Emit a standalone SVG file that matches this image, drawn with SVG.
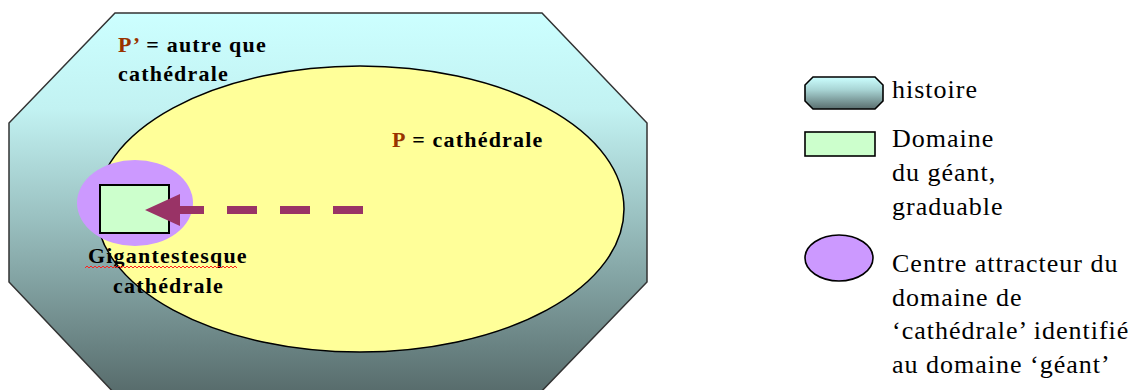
<svg xmlns="http://www.w3.org/2000/svg" width="1147" height="390" viewBox="0 0 1147 390">
<style>
.b{font-weight:bold;font-size:22px;letter-spacing:1.2px;fill:#000}
.r{font-size:26px;letter-spacing:1px;fill:#000}
.red{fill:#993300}
.ln{stroke:#000;stroke-width:1.6}
</style>
<defs>
<linearGradient id="gBig" x1="0" y1="13" x2="0" y2="396" gradientUnits="userSpaceOnUse">
<stop offset="0" stop-color="#ccffff"/>
<stop offset="0.25" stop-color="#c2f2f2"/>
<stop offset="0.55" stop-color="#98bebe"/>
<stop offset="1" stop-color="#566a6a"/>
</linearGradient>
<linearGradient id="gSmall" x1="0" y1="0" x2="0" y2="1">
<stop offset="0" stop-color="#ccffff"/>
<stop offset="0.4" stop-color="#a8d4d4"/>
<stop offset="1" stop-color="#5a6e6e"/>
</linearGradient>
<marker id="ah" markerUnits="userSpaceOnUse" markerWidth="36" markerHeight="32" viewBox="0 0 36 32" refX="0" refY="16" orient="auto">
<path d="M0,0 L35,16 L0,32 z" fill="#993366"/>
</marker>
</defs>
<g id="histoire">
<polygon points="115,13 542,13 647,123 647,282 537,396 117,396 9,282 9,123" fill="url(#gBig)" stroke="#333" stroke-width="1.5"/>
</g>
<g id="cathedrale">
<ellipse cx="360" cy="209" rx="264" ry="143" fill="#ffff99" stroke="#000" stroke-width="1.5"/>
</g>
<g id="centre">
<ellipse cx="135" cy="203" rx="58" ry="43" fill="#cc99ff"/>
</g>
<g id="domaine">
<rect x="100" y="185" width="69" height="48" fill="#ccffcc" stroke="#000" stroke-width="2"/>
</g>
<g id="connectors">
<line x1="363" y1="210" x2="180" y2="210" stroke="#993366" stroke-width="8" stroke-dasharray="30 23" marker-end="url(#ah)"/>
</g>
<g id="labels" font-family="Liberation Serif, DejaVu Serif, serif">
<text class="b" x="118" y="52"><tspan class="red">P’</tspan> = autre que</text>
<text class="b" x="118" y="81">cathédrale</text>
<text class="b" x="392" y="147"><tspan class="red">P</tspan> = cathédrale</text>
<text class="b" x="88" y="263">Gigantestesque</text>
<text class="b" x="113" y="293">cathédrale</text>
<path d="M85 268 l2-2 2 2 2-2 2 2 2-2 2 2 2-2 2 2 2-2 2 2 2-2 2 2 2-2 2 2 2-2 2 2 2-2 2 2 2-2 2 2 2-2 2 2 2-2 2 2 2-2 2 2 2-2 2 2 2-2 2 2 2-2 2 2 2-2 2 2 2-2 2 2 2-2 2 2 2-2 2 2 2-2 2 2 2-2 2 2 2-2 2 2 2-2 2 2 2-2 2 2 2-2 2 2 2-2 2 2 2-2 2 2 2-2 2 2 2-2 2 2 2-2 2 2 2-2 2 2 2-2 2 2 2-2 2 2 2-2 2 2 2-2 2 2 2-2 2 2 2-2 2 2" fill="none" stroke="#ff2020" stroke-width="1"/>
</g>
<g id="legend-histoire" font-family="Liberation Serif, DejaVu Serif, serif">
<polygon points="813,77 875,77 883,85 883,101 875,109 813,109 805,101 805,85" fill="url(#gSmall)" class="ln"/>
<text class="r" x="892" y="98">histoire</text>
</g>
<g id="legend-domaine" font-family="Liberation Serif, DejaVu Serif, serif">
<rect x="805" y="132" width="70" height="24" fill="#ccffcc" class="ln"/>
<text class="r" x="892" y="147">Domaine</text>
<text class="r" x="892" y="181">du géant,</text>
<text class="r" x="892" y="215">graduable</text>
</g>
<g id="legend-centre" font-family="Liberation Serif, DejaVu Serif, serif">
<ellipse cx="839" cy="258" rx="34" ry="23" fill="#cc99ff" class="ln"/>
<text class="r" x="892" y="272">Centre attracteur du</text>
<text class="r" x="892" y="306">domaine de</text>
<text class="r" x="892" y="339">‘cathédrale’ identifié</text>
<text class="r" x="892" y="373">au domaine ‘géant’</text>
</g>
</svg>
